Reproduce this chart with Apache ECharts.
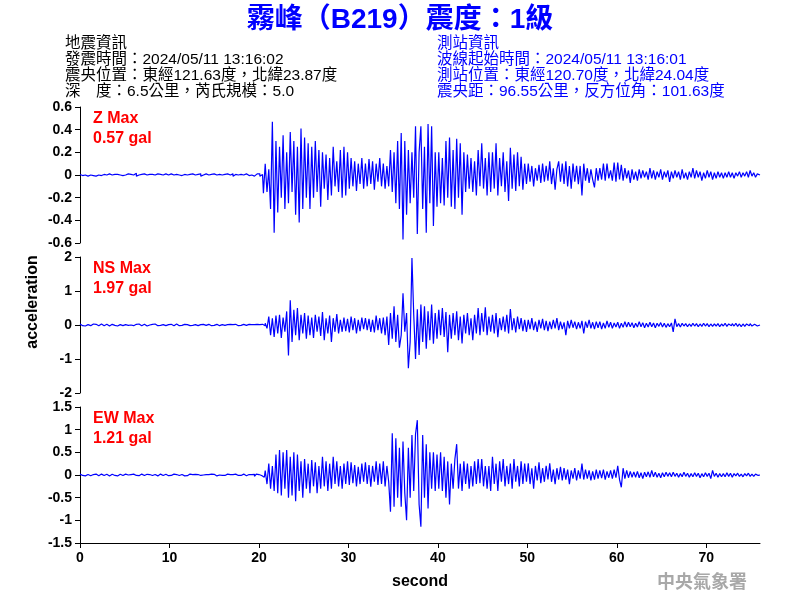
<!DOCTYPE html>
<html><head><meta charset="utf-8">
<script src="https://cdn.jsdelivr.net/npm/echarts@6/dist/echarts.min.js"></script>
<style>html,body{margin:0;padding:0;background:#fff}#c{width:800px;height:600px}</style>
</head><body><div id="c"></div>
<script>
// sample spacing in seconds (t = index * dt)
const dt = 0.2;

const zValues = [
0.005,-0.005,0.01,0,-0.01,0.005,0,-0.005,0.01,-0.01,
0,0.01,-0.005,0.005,-0.01,0,0.01,-0.005,0,0.005,
-0.01,0.005,0,0.01,-0.005,0,-0.01,0.01,0.005,-0.005,
0,0.015,-0.01,0,0.005,-0.005,0.01,0,-0.01,0.005,
0.005,-0.01,0,0.01,-0.005,0.005,0,-0.01,0.01,0,
-0.005,0.01,0,-0.01,0.005,0,0.01,-0.005,0.005,-0.01,
0,0.005,-0.01,0.01,0,-0.005,0.005,0.01,-0.01,0,
0.01,-0.005,0,0.005,-0.01,0.01,0,-0.005,0.005,0,
-0.01,0.005,0.01,-0.005,0,0.01,-0.01,0.005,0,-0.005,
0.005,0,-0.01,0.01,-0.005,0.005,0,-0.01,0.005,0.01,
0.01,-0.01,0.005,-0.16,0.1,-0.15,0.05,-0.3,0.47,-0.51,
0.3,-0.33,0.25,-0.2,0.35,-0.3,0.2,-0.25,0.38,-0.15,
0.3,-0.35,0.25,-0.42,0.41,-0.3,0.33,-0.2,0.28,-0.3,
0.25,-0.2,0.3,-0.15,0.22,-0.28,0.2,-0.12,0.18,-0.22,
0.15,-0.18,0.25,-0.1,0.12,-0.15,0.22,-0.2,0.25,-0.18,
0.2,-0.12,0.15,-0.1,0.12,-0.14,0.1,-0.08,0.15,-0.12,
0.1,-0.1,0.14,-0.08,0.12,-0.13,0.1,-0.06,0.15,-0.1,
0.1,-0.12,0.08,-0.1,0.22,-0.15,0.2,-0.25,0.3,-0.3,
0.37,-0.57,0.3,-0.35,0.22,-0.25,0.2,-0.2,0.43,-0.52,
0.2,0.43,-0.3,0.25,-0.51,0.45,-0.25,0.43,-0.45,0.2,
-0.28,0.2,-0.25,0.15,-0.27,0.3,-0.2,0.33,-0.28,0.22,
-0.3,0.32,-0.2,0.28,-0.35,0.2,-0.15,0.18,-0.12,0.15,
-0.15,0.12,-0.18,0.22,-0.1,0.28,-0.12,0.15,-0.18,0.2,
-0.15,0.2,-0.12,0.28,-0.18,0.15,-0.1,0.2,-0.15,0.12,
-0.23,0.24,-0.12,0.18,-0.14,0.2,-0.1,0.16,-0.13,0.1,
-0.08,0.1,-0.06,0.08,-0.1,0.06,-0.05,0.09,-0.07,0.1,
-0.06,0.08,-0.05,0.12,-0.08,0.06,-0.13,0.05,0.12,-0.06,
0.1,-0.08,0.12,-0.1,0.08,-0.12,0.1,-0.06,0.08,-0.08,
0.08,-0.18,0.1,-0.05,0.06,-0.07,0.05,-0.04,-0.11,0.06,
-0.05,0.06,-0.04,0.1,-0.05,0.1,-0.03,0.04,-0.05,0.11,
-0.06,0.11,-0.04,0.09,-0.05,0.06,-0.03,0.04,-0.07,0.05,
-0.04,0.03,-0.05,0.05,-0.03,0.04,-0.02,0.03,-0.04,0.06,
-0.03,0.04,-0.04,0.03,-0.02,0.05,-0.04,0.03,-0.02,0.04,
-0.06,0.03,-0.03,0.04,-0.02,0.03,-0.04,0.05,-0.03,0.02,
-0.04,0.03,-0.02,0.06,-0.03,0.04,-0.02,0.03,-0.05,0.02,
-0.03,0.04,-0.02,0.03,-0.04,0.02,-0.03,0.03,-0.02,0.02,
-0.03,0.02,-0.02,0.03,-0.02,0.02,-0.03,0.02,-0.01,0.03,
-0.02,0.02,-0.01,0.03,-0.02,0.04,-0.01,0.02,-0.02,0.01,
0
];

const nsValues = [
0.03,-0.02,0.02,-0.03,0.01,0.02,-0.02,0.03,-0.01,0.02,
-0.02,0.01,0.03,-0.02,0,0.02,-0.03,0.01,0.02,-0.01,
0.02,-0.03,0.01,0.02,-0.02,0.01,0.03,-0.01,0,0.02,
-0.02,0.02,-0.01,0.03,-0.02,0.01,0.02,-0.03,0.01,0,
0.02,-0.01,0.03,-0.02,0.02,-0.01,0.01,0.02,-0.02,0.01,
-0.01,0.02,-0.02,0.01,0.03,-0.02,0.01,-0.01,0.02,0,
0.01,-0.02,0.02,-0.01,0.01,0.02,-0.02,0.01,-0.01,0.02,
-0.01,0.01,0.02,-0.02,0.01,-0.01,0.02,0,-0.02,0.01,
0.02,-0.01,0.01,-0.02,0.02,0.01,-0.01,0.02,-0.02,0.01,
-0.01,0.02,0,-0.01,0.02,-0.02,0.01,0.01,-0.02,0.02,
0.01,-0.01,0.02,-0.02,0.05,-0.1,0.25,-0.3,0.2,-0.35,
0.28,-0.25,0.3,-0.38,0.22,-0.2,0.4,-0.9,0.73,-0.5,
0.45,-0.3,0.5,-0.45,0.3,-0.25,0.35,-0.4,0.28,-0.3,
0.22,-0.38,0.3,-0.2,0.25,-0.32,0.38,-0.45,0.2,-0.25,
0.28,-0.5,0.2,-0.2,0.32,-0.25,0.15,-0.2,0.22,-0.18,
0.18,-0.22,0.25,-0.15,0.2,-0.25,0.15,-0.18,0.22,-0.12,
0.2,-0.15,0.18,-0.2,0.15,-0.22,0.28,-0.15,0.2,-0.25,
0.22,-0.3,0.25,-0.59,0.35,-0.4,0.55,-0.5,0.3,-0.67,
-0.3,0.93,-0.2,0.35,-1.27,-0.5,1.97,0.3,-1.0,0.46,
-0.88,0.6,-0.5,0.55,-0.7,0.4,-0.45,0.6,-0.55,0.35,
-0.4,0.45,-0.3,0.5,-0.35,0.38,-0.8,0.3,-0.4,0.35,
-0.3,0.4,-0.45,0.25,-0.54,0.3,-0.25,0.35,-0.3,0.2,
-0.45,0.3,-0.25,0.5,-0.3,0.35,-0.2,0.52,-0.3,0.25,
-0.2,0.3,-0.25,0.35,-0.36,0.2,-0.15,0.25,-0.2,0.3,
-0.25,0.47,-0.15,0.2,-0.22,0.25,-0.12,0.2,-0.18,0.15,
-0.2,0.15,-0.12,0.2,-0.15,0.1,-0.2,0.15,-0.1,0.18,
-0.15,0.12,-0.18,0.1,-0.12,0.15,-0.1,0.2,-0.15,0.1,
-0.12,0.08,-0.3,0.12,-0.1,0.15,-0.08,0.1,-0.12,0.08,
-0.1,0.12,-0.25,0.1,-0.08,0.15,-0.1,0.08,-0.12,0.1,
-0.08,0.1,-0.12,0.06,-0.1,0.12,-0.07,0.08,-0.1,0.06,
-0.06,0.08,-0.1,0.05,-0.07,0.1,-0.06,0.08,-0.05,0.07,
-0.08,0.05,-0.06,0.1,-0.05,0.07,-0.08,0.05,-0.06,0.08,
-0.05,0.06,-0.08,0.05,-0.04,0.07,-0.06,0.05,-0.07,0.04,
-0.05,0.06,-0.2,0.18,-0.05,0.04,-0.06,0.05,-0.03,0.04,
-0.05,0.03,-0.04,0.05,-0.03,0.04,-0.05,0.03,-0.04,0.05,
-0.03,0.04,-0.05,0.03,-0.04,0.03,-0.03,0.04,-0.05,0.03,
-0.03,0.05,-0.04,0.03,-0.02,0.04,-0.03,0.05,-0.04,0.03,
-0.05,0.03,-0.04,0.03,-0.02,0.04,-0.03,0.02,-0.03,0.02,
0
];

const ewValues = [
0.02,-0.01,0.015,-0.02,0.01,0.02,-0.015,0.01,-0.01,0.02,
-0.015,0.01,0.02,-0.01,0,0.015,-0.02,0.01,0.015,-0.01,
0.01,-0.02,0.015,0.01,-0.01,0.02,-0.015,0,0.01,-0.01,
0.02,-0.01,0.01,-0.015,0.02,0,-0.01,0.015,-0.02,0.01,
-0.01,0.015,0.01,-0.02,0.01,0.02,-0.01,0,0.015,-0.015,
0.01,-0.01,0.02,-0.015,0.01,-0.01,0.015,0.01,-0.02,0.01,
-0.015,0.02,-0.01,0.01,0.015,-0.02,0.01,-0.01,0.02,0,
0.01,-0.015,0.01,0.02,-0.01,0.015,-0.02,0.01,0,-0.01,
0.015,-0.01,0.02,-0.02,0.01,0.01,-0.015,0.02,-0.01,0.01,
-0.01,0.02,0,-0.015,0.01,-0.02,0.01,0.015,-0.03,0.02,
0.01,-0.01,0.01,-0.05,0.1,-0.2,0.25,-0.3,0.2,-0.35,
0.45,-0.4,0.55,-0.45,0.5,-0.3,0.55,-0.5,0.4,-0.45,
0.5,-0.58,0.45,-0.35,0.3,-0.5,0.35,-0.3,0.25,-0.4,
0.33,-0.25,0.28,-0.4,0.2,-0.3,0.4,-0.25,0.3,-0.35,
0.25,-0.3,0.4,-0.2,0.3,-0.25,0.2,-0.3,0.25,-0.2,
0.3,-0.22,0.28,-0.18,0.22,-0.25,0.18,-0.2,0.25,-0.15,
0.28,-0.2,0.22,-0.26,0.2,-0.15,0.3,-0.22,0.25,-0.2,
0.3,-0.25,0.2,-0.15,-0.81,0.92,-0.7,0.81,-0.5,0.6,
-0.7,0.74,-0.4,-1.0,0.6,-0.5,0.88,-0.35,0.9,1.21,
-0.65,-1.14,0.88,-0.5,0.68,-0.74,0.5,-0.3,0.5,-0.35,
0.45,-0.3,0.5,-0.35,0.4,-0.5,0.3,-0.65,0.25,-0.3,
0.35,0.68,-0.3,0.25,-0.35,0.3,-0.2,0.25,-0.3,0.2,
-0.25,0.3,-0.2,0.35,-0.18,0.35,-0.25,0.2,-0.3,0.2,
-0.35,0.4,-0.2,0.25,-0.35,0.3,-0.15,0.35,-0.25,0.2,
-0.2,0.25,-0.3,0.35,-0.15,0.2,-0.25,0.3,-0.2,0.25,
-0.15,0.26,-0.2,0.15,-0.3,0.2,-0.12,0.28,-0.18,0.15,
-0.15,0.2,-0.1,0.26,-0.15,0.12,-0.2,0.15,-0.1,0.18,
-0.12,0.15,-0.1,0.12,-0.2,0.1,-0.08,0.15,-0.12,0.1,
-0.08,0.25,-0.1,0.12,-0.08,0.1,-0.12,0.08,-0.1,0.12,
-0.08,0.1,-0.07,0.12,-0.1,0.08,-0.06,0.1,-0.08,0.12,
-0.06,0.2,-0.1,-0.27,0.15,-0.08,0.1,-0.06,0.08,-0.05,
0.07,-0.05,0.08,-0.06,0.05,-0.08,0.06,-0.04,0.07,-0.05,
0.1,-0.04,0.06,-0.05,0.04,-0.06,0.05,-0.04,0.06,-0.03,
0.05,-0.04,0.06,-0.03,0.04,-0.05,0.03,-0.04,0.06,-0.03,
0.04,-0.05,0.03,-0.04,0.05,-0.03,0.04,-0.06,0.03,-0.04,
0.05,-0.03,0.04,-0.08,0.1,-0.03,0.04,-0.05,0.03,-0.04,
0.03,-0.04,0.05,-0.03,0.04,-0.05,0.03,-0.02,0.04,-0.03,
0.02,-0.04,0.03,-0.02,0.04,-0.03,0.02,-0.03,0.02,-0.01,
0
];

const componentNames = ['Z', 'NS', 'EW'];
const maxLabels = ['0.57 gal', '1.97 gal', '1.21 gal'];
const yRanges = [[-0.6, 0.6, 0.2], [-2, 2, 1], [-1.5, 1.5, 0.5]];
const xRange = [0, 76, 10];

const titleText = '霧峰（B219）震度：1級';
const quakeInfo = ['地震資訊', '發震時間：2024/05/11 13:16:02', '震央位置：東經121.63度，北緯23.87度', '深　度：6.5公里，芮氏規模：5.0'];
const stationInfo = ['測站資訊', '波線起始時間：2024/05/11 13:16:01', '測站位置：東經120.70度，北緯24.04度', '震央距：96.55公里，反方位角：101.63度'];

const LATIN = "'Liberation Sans', Arial, sans-serif";
const MIXED = "'Liberation Sans', Arial, 'Noto Sans CJK TC', sans-serif";
const seriesValues = [zValues, nsValues, ewValues];
const tops = [107, 257, 407];

const chart = echarts.init(document.getElementById('c'), null, { renderer: 'canvas' });

const grid = tops.map(t => ({ left: 80, width: 680, top: t, height: 136 }));
const xAxis = tops.map((t, i) => ({
  type: 'value', gridIndex: i, min: xRange[0], max: xRange[1], interval: xRange[2],
  show: i === 2,
  axisLine: { show: true, onZero: false, lineStyle: { color: '#000', width: 1 } },
  axisTick: { show: true, length: 5, inside: false, lineStyle: { color: '#000' } },
  axisLabel: { color: '#000', fontSize: 14, fontWeight: 'bold', fontFamily: LATIN, margin: 8, showMaxLabel: false },
  splitLine: { show: false },
  name: i === 2 ? 'second' : '', nameLocation: 'middle', nameGap: 31,
  nameTextStyle: { color: '#000', fontSize: 16, fontWeight: 'bold', fontFamily: LATIN }
}));
const yAxis = yRanges.map((r, i) => ({
  type: 'value', gridIndex: i, min: r[0], max: r[1], interval: r[2],
  axisLine: { show: true, onZero: false, lineStyle: { color: '#000', width: 1 } },
  axisTick: { show: true, length: 5, inside: false, lineStyle: { color: '#000' } },
  axisLabel: { color: '#000', fontSize: 14, fontWeight: 'bold', fontFamily: LATIN, margin: 8 },
  splitLine: { show: false }
}));
const series = seriesValues.map((vals, i) => ({
  type: 'line', xAxisIndex: i, yAxisIndex: i, showSymbol: false, symbol: 'none',
  step: 'middle', silent: true, animation: false,
  lineStyle: { color: '#0000ff', width: 1.2 },
  data: vals.map((v, k) => [+(k * dt).toFixed(2), v])
}));

const graphic = [];
graphic.push({ type: 'text', x: 400, y: 20, style: { text: titleText, fill: '#0000ff', fontSize: 28, fontWeight: 'bold', fontFamily: MIXED, align: 'center', verticalAlign: 'middle' } });
quakeInfo.forEach((s, k) => graphic.push({ type: 'text', x: 65, y: 44 + k * 16, style: { text: s, fill: '#000', fontSize: 15.5, fontFamily: MIXED, align: 'left', verticalAlign: 'middle' } }));
stationInfo.forEach((s, k) => graphic.push({ type: 'text', x: 437, y: 44 + k * 16, style: { text: s, fill: '#0000ff', fontSize: 15.5, fontFamily: MIXED, align: 'left', verticalAlign: 'middle' } }));
componentNames.forEach((n, i) => {
  graphic.push({ type: 'text', x: 93, y: tops[i] + 12, style: { text: n + ' Max', fill: '#ff0000', fontSize: 16, fontWeight: 'bold', fontFamily: LATIN, align: 'left', verticalAlign: 'middle' } });
  graphic.push({ type: 'text', x: 93, y: tops[i] + 32, style: { text: maxLabels[i], fill: '#ff0000', fontSize: 16, fontWeight: 'bold', fontFamily: LATIN, align: 'left', verticalAlign: 'middle' } });
});
graphic.push({ type: 'text', x: 33, y: 302, rotation: Math.PI / 2, style: { text: 'acceleration', fill: '#000', fontSize: 16, fontWeight: 'bold', fontFamily: LATIN, align: 'center', verticalAlign: 'middle' } });
graphic.push({ type: 'text', x: 702, y: 581, style: { text: '中央氣象署', fill: '#a8a8a8', fontSize: 18, fontWeight: 'bold', fontFamily: "'Noto Sans CJK TC', sans-serif", align: 'center', verticalAlign: 'middle' } });

chart.setOption({
  animation: false,
  backgroundColor: '#fff',
  grid, xAxis, yAxis, series, graphic
});
</script>
</body></html>
